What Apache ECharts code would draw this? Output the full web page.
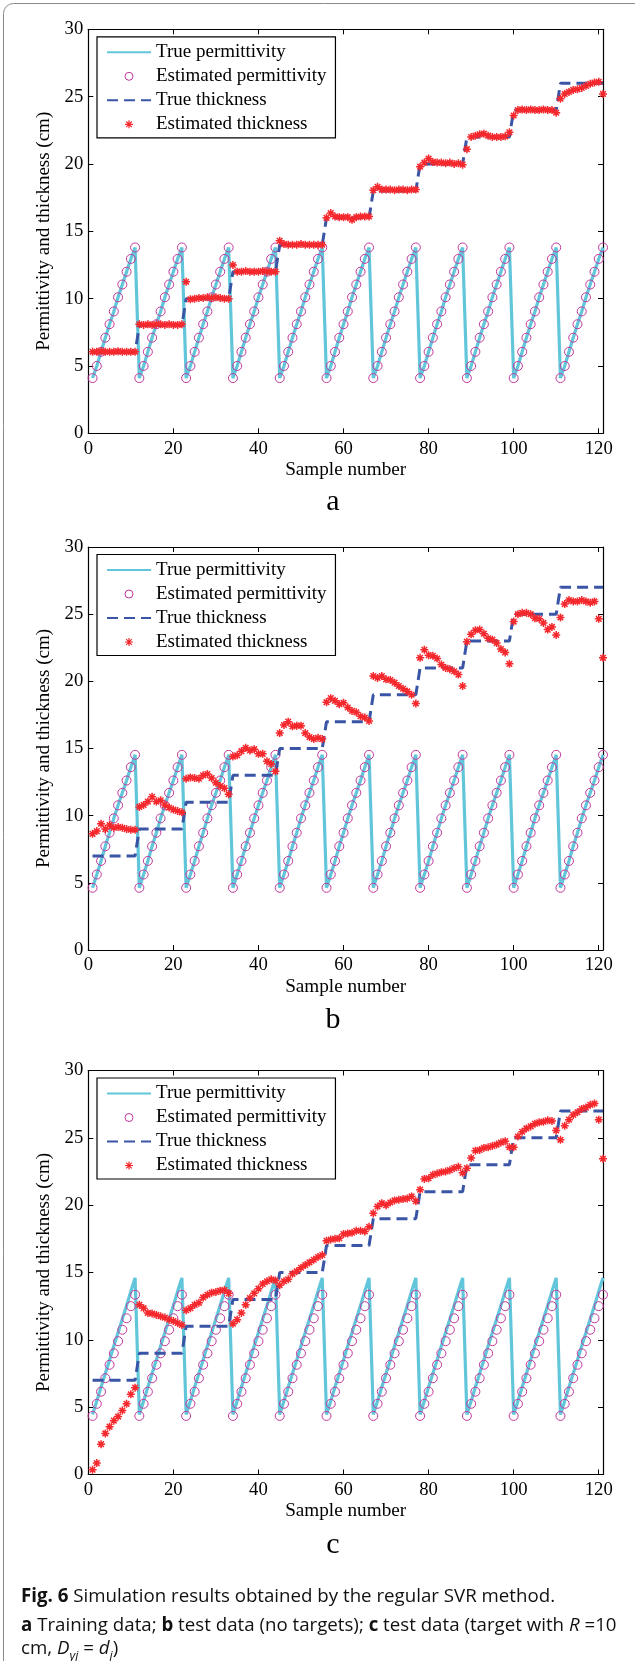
<!DOCTYPE html>
<html><head><meta charset="utf-8">
<script src="https://cdn.jsdelivr.net/npm/echarts@6/dist/echarts.min.js"></script>
<style>html,body{margin:0;padding:0;background:#fff}#chart{width:635px;height:1661px}</style>
</head><body><div id="chart"></div>
<script>
// ---------------- data ----------------
const sampleNumbers = Array.from({length: 121}, (_, i) => i + 1);
const xTickValues = [0, 20, 40, 60, 80, 100, 120];
const yTickValues = [0, 5, 10, 15, 20, 25, 30];
const seriesNames = ['True permittivity', 'Estimated permittivity', 'True thickness', 'Estimated thickness'];
const panelLetters = ['a', 'b', 'c'];

// panel a (training data)
const aTruePermittivity = [
 4.1,5.0,6.05,7.1,8.1,9.05,10.1,11.05,12.0,12.95,13.8,
 4.1,5.0,6.05,7.1,8.1,9.05,10.1,11.05,12.0,12.95,13.8,
 4.1,5.0,6.05,7.1,8.1,9.05,10.1,11.05,12.0,12.95,13.8,
 4.1,5.0,6.05,7.1,8.1,9.05,10.1,11.05,12.0,12.95,13.8,
 4.1,5.0,6.05,7.1,8.1,9.05,10.1,11.05,12.0,12.95,13.8,
 4.1,5.0,6.05,7.1,8.1,9.05,10.1,11.05,12.0,12.95,13.8,
 4.1,5.0,6.05,7.1,8.1,9.05,10.1,11.05,12.0,12.95,13.8,
 4.1,5.0,6.05,7.1,8.1,9.05,10.1,11.05,12.0,12.95,13.8,
 4.1,5.0,6.05,7.1,8.1,9.05,10.1,11.05,12.0,12.95,13.8,
 4.1,5.0,6.05,7.1,8.1,9.05,10.1,11.05,12.0,12.95,13.8,
 4.1,5.0,6.05,7.1,8.1,9.05,10.1,11.05,12.0,12.95,13.8];
const aEstPermittivity = [
 4.1,5.0,6.05,7.1,8.1,9.05,10.1,11.05,12.0,12.95,13.8,
 4.1,5.0,6.05,7.1,8.1,9.05,10.1,11.05,12.0,12.95,13.8,
 4.1,5.0,6.05,7.1,8.1,9.05,10.1,11.05,12.0,12.95,13.8,
 4.1,5.0,6.05,7.1,8.1,9.05,10.1,11.05,12.0,12.95,13.8,
 4.1,5.0,6.05,7.1,8.1,9.05,10.1,11.05,12.0,12.95,13.8,
 4.1,5.0,6.05,7.1,8.1,9.05,10.1,11.05,12.0,12.95,13.8,
 4.1,5.0,6.05,7.1,8.1,9.05,10.1,11.05,12.0,12.95,13.8,
 4.1,5.0,6.05,7.1,8.1,9.05,10.1,11.05,12.0,12.95,13.8,
 4.1,5.0,6.05,7.1,8.1,9.05,10.1,11.05,12.0,12.95,13.8,
 4.1,5.0,6.05,7.1,8.1,9.05,10.1,11.05,12.0,12.95,13.8,
 4.1,5.0,6.05,7.1,8.1,9.05,10.1,11.05,12.0,12.95,13.8];
const aTrueThickness = [
 6,6,6,6,6,6,6,6,6,6,6,
 8,8,8,8,8,8,8,8,8,8,8,
 10,10,10,10,10,10,10,10,10,10,10,
 12,12,12,12,12,12,12,12,12,12,12,
 14,14,14,14,14,14,14,14,14,14,14,
 16,16,16,16,16,16,16,16,16,16,16,
 18,18,18,18,18,18,18,18,18,18,18,
 20,20,20,20,20,20,20,20,20,20,20,
 22,22,22,22,22,22,22,22,22,22,22,
 24,24,24,24,24,24,24,24,24,24,24,
 26,26,26,26,26,26,26,26,26,26,26];
const aEstThickness = [
 6.05,6.05,6.1,6.05,6.05,6.05,6.1,6.05,6.05,6.05,6.05,
 8.1,8.05,8.1,8.05,8.1,8.1,8.05,8.1,8.05,8.05,8.1,
 11.25,9.95,10.0,10.05,10.05,10.1,10.05,10.1,10.05,10.0,10.0,
 12.5,12.0,12.0,12.05,12.0,12.0,12.0,12.05,12.0,12.0,12.0,
 14.3,14.05,14.0,14.0,14.0,14.05,14.0,14.0,14.0,14.0,14.0,
 16.0,16.35,16.1,16.05,16.05,16.05,15.85,16.05,16.1,16.1,16.1,
 18.05,18.3,18.1,18.1,18.1,18.05,18.1,18.1,18.05,18.1,18.1,
 19.8,20.1,20.4,20.15,20.1,20.1,20.05,20.1,20.0,20.05,19.95,
 21.1,22.0,22.1,22.2,22.25,22.1,22.0,22.0,22.0,22.05,22.35,
 23.6,24.0,24.05,24.0,24.05,24.0,24.0,24.05,24.0,24.0,23.8,
 24.85,25.2,25.35,25.5,25.55,25.65,25.8,25.95,26.05,26.1,25.2];

// panel b (test data, no targets)
const bTruePermittivity = [
 4.63,5.62,6.63,7.72,8.73,9.8,10.77,11.7,12.62,13.61,14.53,
 4.63,5.62,6.63,7.72,8.73,9.8,10.77,11.7,12.62,13.61,14.53,
 4.63,5.62,6.63,7.72,8.73,9.8,10.77,11.7,12.62,13.61,14.53,
 4.63,5.62,6.63,7.72,8.73,9.8,10.77,11.7,12.62,13.61,14.53,
 4.63,5.62,6.63,7.72,8.73,9.8,10.77,11.7,12.62,13.61,14.53,
 4.63,5.62,6.63,7.72,8.73,9.8,10.77,11.7,12.62,13.61,14.53,
 4.63,5.62,6.63,7.72,8.73,9.8,10.77,11.7,12.62,13.61,14.53,
 4.63,5.62,6.63,7.72,8.73,9.8,10.77,11.7,12.62,13.61,14.53,
 4.63,5.62,6.63,7.72,8.73,9.8,10.77,11.7,12.62,13.61,14.53,
 4.63,5.62,6.63,7.72,8.73,9.8,10.77,11.7,12.62,13.61,14.53,
 4.63,5.62,6.63,7.72,8.73,9.8,10.77,11.7,12.62,13.61,14.53];
const bEstPermittivity = [
 4.63,5.62,6.63,7.72,8.73,9.8,10.77,11.7,12.62,13.61,14.53,
 4.63,5.62,6.63,7.72,8.73,9.8,10.77,11.7,12.62,13.61,14.53,
 4.63,5.62,6.63,7.72,8.73,9.8,10.77,11.7,12.62,13.61,14.53,
 4.63,5.62,6.63,7.72,8.73,9.8,10.77,11.7,12.62,13.61,14.53,
 4.63,5.62,6.63,7.72,8.73,9.8,10.77,11.7,12.62,13.61,14.53,
 4.63,5.62,6.63,7.72,8.73,9.8,10.77,11.7,12.62,13.61,14.53,
 4.63,5.62,6.63,7.72,8.73,9.8,10.77,11.7,12.62,13.61,14.53,
 4.63,5.62,6.63,7.72,8.73,9.8,10.77,11.7,12.62,13.61,14.53,
 4.63,5.62,6.63,7.72,8.73,9.8,10.77,11.7,12.62,13.61,14.53,
 4.63,5.62,6.63,7.72,8.73,9.8,10.77,11.7,12.62,13.61,14.53,
 4.63,5.62,6.63,7.72,8.73,9.8,10.77,11.7,12.62,13.61,14.53];
const bTrueThickness = [
 7,7,7,7,7,7,7,7,7,7,7,
 9,9,9,9,9,9,9,9,9,9,9,
 11,11,11,11,11,11,11,11,11,11,11,
 13,13,13,13,13,13,13,13,13,13,13,
 15,15,15,15,15,15,15,15,15,15,15,
 17,17,17,17,17,17,17,17,17,17,17,
 19,19,19,19,19,19,19,19,19,19,19,
 21,21,21,21,21,21,21,21,21,21,21,
 23,23,23,23,23,23,23,23,23,23,23,
 25,25,25,25,25,25,25,25,25,25,25,
 27,27,27,27,27,27,27,27,27,27,27];
const bEstThickness = [
 8.65,8.85,9.4,9.0,9.3,9.1,9.15,9.1,9.0,8.95,8.95,
 10.65,10.8,11.05,11.4,11.05,11.15,10.8,10.6,10.45,10.35,10.25,
 12.75,12.85,12.8,12.75,13.0,13.1,12.8,12.45,12.2,12.05,11.6,
 14.4,14.5,14.8,15.05,14.85,14.95,14.6,14.6,14.05,13.85,13.3,
 16.15,16.75,17.0,16.65,16.7,16.7,16.15,15.85,15.7,15.8,15.7,
 18.45,18.75,18.55,18.3,18.4,18.05,17.8,17.7,17.4,17.3,17.05,
 20.4,20.25,20.4,20.15,20.1,19.9,19.65,19.45,19.25,19.0,18.35,
 21.75,22.35,21.95,21.9,21.7,21.25,21.0,20.9,20.75,20.5,19.65,
 22.95,23.5,23.8,23.85,23.55,23.2,23.1,22.85,22.4,22.15,21.3,
 24.45,25.0,25.1,25.1,25.0,24.7,24.65,24.35,23.85,24.05,23.45,
 24.75,25.75,26.05,25.95,25.95,26.05,25.95,25.85,25.95,24.65,21.75];

// panel c (test data, target with R = 10 cm)
const cTruePermittivity = [
 4.45,5.45,6.5,7.5,8.5,9.55,10.55,11.55,12.55,13.6,14.6,
 4.45,5.45,6.5,7.5,8.5,9.55,10.55,11.55,12.55,13.6,14.6,
 4.45,5.45,6.5,7.5,8.5,9.55,10.55,11.55,12.55,13.6,14.6,
 4.45,5.45,6.5,7.5,8.5,9.55,10.55,11.55,12.55,13.6,14.6,
 4.45,5.45,6.5,7.5,8.5,9.55,10.55,11.55,12.55,13.6,14.6,
 4.45,5.45,6.5,7.5,8.5,9.55,10.55,11.55,12.55,13.6,14.6,
 4.45,5.45,6.5,7.5,8.5,9.55,10.55,11.55,12.55,13.6,14.6,
 4.45,5.45,6.5,7.5,8.5,9.55,10.55,11.55,12.55,13.6,14.6,
 4.45,5.45,6.5,7.5,8.5,9.55,10.55,11.55,12.55,13.6,14.6,
 4.45,5.45,6.5,7.5,8.5,9.55,10.55,11.55,12.55,13.6,14.6,
 4.45,5.45,6.5,7.5,8.5,9.55,10.55,11.55,12.55,13.6,14.6];
const cEstPermittivity = [
 4.35,5.25,6.15,7.15,8.15,9.0,9.9,10.75,11.6,12.5,13.35,
 4.35,5.25,6.15,7.15,8.15,9.0,9.9,10.75,11.6,12.5,13.35,
 4.35,5.25,6.15,7.15,8.15,9.0,9.9,10.75,11.6,12.5,13.35,
 4.35,5.25,6.15,7.15,8.15,9.0,9.9,10.75,11.6,12.5,13.35,
 4.35,5.25,6.15,7.15,8.15,9.0,9.9,10.75,11.6,12.5,13.35,
 4.35,5.25,6.15,7.15,8.15,9.0,9.9,10.75,11.6,12.5,13.35,
 4.35,5.25,6.15,7.15,8.15,9.0,9.9,10.75,11.6,12.5,13.35,
 4.35,5.25,6.15,7.15,8.15,9.0,9.9,10.75,11.6,12.5,13.35,
 4.35,5.25,6.15,7.15,8.15,9.0,9.9,10.75,11.6,12.5,13.35,
 4.35,5.25,6.15,7.15,8.15,9.0,9.9,10.75,11.6,12.5,13.35,
 4.35,5.25,6.15,7.15,8.15,9.0,9.9,10.75,11.6,12.5,13.35];
const cTrueThickness = [
 7,7,7,7,7,7,7,7,7,7,7,
 9,9,9,9,9,9,9,9,9,9,9,
 11,11,11,11,11,11,11,11,11,11,11,
 13,13,13,13,13,13,13,13,13,13,13,
 15,15,15,15,15,15,15,15,15,15,15,
 17,17,17,17,17,17,17,17,17,17,17,
 19,19,19,19,19,19,19,19,19,19,19,
 21,21,21,21,21,21,21,21,21,21,21,
 23,23,23,23,23,23,23,23,23,23,23,
 25,25,25,25,25,25,25,25,25,25,25,
 27,27,27,27,27,27,27,27,27,27,27];
const cEstThickness = [
 0.35,0.85,2.25,3.05,3.55,4.0,4.3,4.75,5.25,5.95,6.45,
 12.6,12.35,12.0,11.95,11.85,11.75,11.65,11.5,11.4,11.25,11.1,
 12.2,12.35,12.6,12.75,13.15,13.35,13.5,13.55,13.65,13.7,13.45,
 11.2,11.5,12.0,12.6,13.1,13.45,13.8,14.15,14.35,14.5,14.4,
 14.05,14.35,14.5,14.9,15.1,15.35,15.55,15.75,15.95,16.15,16.3,
 17.35,17.45,17.5,17.55,17.85,17.9,17.95,18.1,18.1,18.05,18.4,
 19.4,19.9,20.15,20.0,20.2,20.35,20.4,20.45,20.5,20.65,20.3,
 21.15,21.95,22.0,22.25,22.35,22.45,22.5,22.6,22.75,22.85,22.4,
 22.75,23.5,24.05,24.1,24.25,24.3,24.4,24.5,24.65,24.75,24.3,
 24.3,25.1,25.45,25.7,25.85,26.05,26.15,26.2,26.3,26.25,25.55,
 24.85,25.9,26.35,26.7,26.9,27.15,27.25,27.45,27.55,26.35,23.45];

// ---------------- chart ----------------
const FONT = 'Liberation Serif';
const COL_LINE = '#62C6DA', COL_CIRCLE = '#C2389E', COL_DASH = '#3A55A5', COL_STAR = '#F5282D';
const ASTERISK = 'path://M5,0L5,10M0,5L10,5M1.5,1.5L8.5,8.5M8.5,1.5L1.5,8.5';

const panels = [
  {top: 29.3, height: 404, trueP: aTruePermittivity, estP: aEstPermittivity, trueT: aTrueThickness, estT: aEstThickness, letterY: 502},
  {top: 547, height: 403, trueP: bTruePermittivity, estP: bEstPermittivity, trueT: bTrueThickness, estT: bEstThickness, letterY: 1020},
  {top: 1070.5, height: 404, trueP: cTruePermittivity, estP: cEstPermittivity, trueT: cTrueThickness, estT: cEstThickness, letterY: 1545}
];
const GL = 88.3, GW = 514.7;
const pairs = arr => sampleNumbers.map((s, i) => [s, arr[i]]);

const grid = [], xAxis = [], yAxis = [], series = [], legend = [], graphic = [];
const labelStyle = {fontFamily: FONT, fontSize: 18.7, color: '#000'};
const axisLine = {show: true, onZero: false, lineStyle: {color: '#000', width: 1.2}};
const tickIn = {show: true, inside: true, length: 5, lineStyle: {color: '#000', width: 1}};

panels.forEach((p, k) => {
  grid.push({left: GL, top: p.top, width: GW, height: p.height, show: false});
  xAxis.push({type: 'value', gridIndex: k, min: 0, max: 121, interval: 20, position: 'bottom',
    axisLine: axisLine, axisTick: tickIn, splitLine: {show: false},
    axisLabel: Object.assign({margin: 6, showMaxLabel: false}, labelStyle),
    name: 'Sample number', nameLocation: 'middle', nameGap: 27,
    nameTextStyle: {fontFamily: FONT, fontSize: 19.2, color: '#000', lineHeight: 19}});
  xAxis.push({type: 'value', gridIndex: k, min: 0, max: 121, interval: 20, position: 'top',
    axisLine: axisLine, axisTick: tickIn, splitLine: {show: false}, axisLabel: {show: false}});
  yAxis.push({type: 'value', gridIndex: k, min: 0, max: 30, interval: 5, position: 'left',
    axisLine: axisLine, axisTick: tickIn, splitLine: {show: false},
    axisLabel: Object.assign({margin: 5}, labelStyle),
    name: 'Permittivity and thickness (cm)', nameLocation: 'middle', nameGap: 27,
    nameTextStyle: {fontFamily: FONT, fontSize: 19, color: '#000', lineHeight: 19}});
  yAxis.push({type: 'value', gridIndex: k, min: 0, max: 30, interval: 5, position: 'right',
    axisLine: axisLine, axisTick: tickIn, splitLine: {show: false}, axisLabel: {show: false}});

  const xi = 2 * k, yi = 2 * k;
  series.push({name: seriesNames[0], type: 'line', xAxisIndex: xi, yAxisIndex: yi, data: pairs(p.trueP),
    symbol: 'none', lineStyle: {color: COL_LINE, width: 3.2}, itemStyle: {color: COL_LINE}, z: 2});
  series.push({name: seriesNames[1], type: 'line', xAxisIndex: xi, yAxisIndex: yi, data: pairs(p.estP),
    symbol: 'circle', symbolSize: 9, showSymbol: true, showAllSymbol: true,
    lineStyle: {width: 0, opacity: 0},
    itemStyle: {color: 'rgba(255,255,255,0)', borderColor: COL_CIRCLE, borderWidth: 1}, z: 3});
  series.push({name: seriesNames[2], type: 'line', xAxisIndex: xi, yAxisIndex: yi, data: pairs(p.trueT),
    symbol: 'none', lineStyle: {color: COL_DASH, width: 3, type: [11, 6]}, itemStyle: {color: COL_DASH}, z: 4});
  series.push({name: seriesNames[3], type: 'line', xAxisIndex: xi, yAxisIndex: yi, data: pairs(p.estT),
    symbol: ASTERISK, symbolSize: 8, showSymbol: true, showAllSymbol: true,
    lineStyle: {width: 0, opacity: 0},
    itemStyle: {color: COL_STAR, borderColor: COL_STAR, borderWidth: 1.5}, z: 5});

  legend.push({orient: 'vertical', left: 97, top: p.top + 7.5,
    data: [
      {name: seriesNames[0], itemStyle: {opacity: 0}},
      {name: seriesNames[1], itemStyle: {borderWidth: 1}},
      {name: seriesNames[2], itemStyle: {opacity: 0}},
      {name: seriesNames[3], itemStyle: {borderWidth: 1.2}}
    ],
    itemWidth: 44, itemHeight: 10, itemGap: 5, padding: [6, 9, 4, 9],
    borderColor: '#000', borderWidth: 1.2, backgroundColor: '#fff', borderRadius: 0,
    selectedMode: false,
    textStyle: {fontFamily: FONT, fontSize: 19, color: '#000', lineHeight: 19}});

  graphic.push({type: 'text', x: 333, y: p.letterY,
    style: {text: panelLetters[k], fontFamily: FONT, fontSize: 30, fill: '#000', textAlign: 'center', textVerticalAlign: 'middle'}});
});

// card border
graphic.push({type: 'rect', shape: {x: 3.5, y: 3.5, width: 700, height: 1720, r: 10},
  style: {fill: 'none', stroke: '#8a8a8a', lineWidth: 1}, z: -1});
// caption
const capFont = 'Open Sans';
const CF = 18.7;
const capRich = {
  b: {fontFamily: capFont, fontSize: CF, fontWeight: 'bold', fill: '#111'},
  i: {fontFamily: capFont, fontSize: CF, fontStyle: 'italic', fill: '#111'},
  sub: {fontFamily: capFont, fontSize: 12.5, fontStyle: 'italic', fill: '#111', verticalAlign: 'bottom', lineHeight: 28}
};
const captionLines = [
  '{b|Fig. 6} Simulation results obtained by the regular SVR method.',
  '{b|a} Training data; {b|b} test data (no targets); {b|c} test data (target with {i|R} =10',
  'cm, {i|D}{sub|yj} = {i|d}{sub|j})'
];
const captionY = [1597, 1626, 1649];
captionLines.forEach((t, i) => {
  graphic.push({type: 'text', x: 21, y: captionY[i],
    style: {text: t, rich: capRich, fontFamily: capFont, fontSize: CF, fill: '#111', textVerticalAlign: 'middle'}});
});

const chart = echarts.init(document.getElementById('chart'), null, {renderer: 'canvas'});
chart.setOption({animation: false, backgroundColor: '#fff', grid, xAxis, yAxis, series, legend, graphic});
</script></body></html>
